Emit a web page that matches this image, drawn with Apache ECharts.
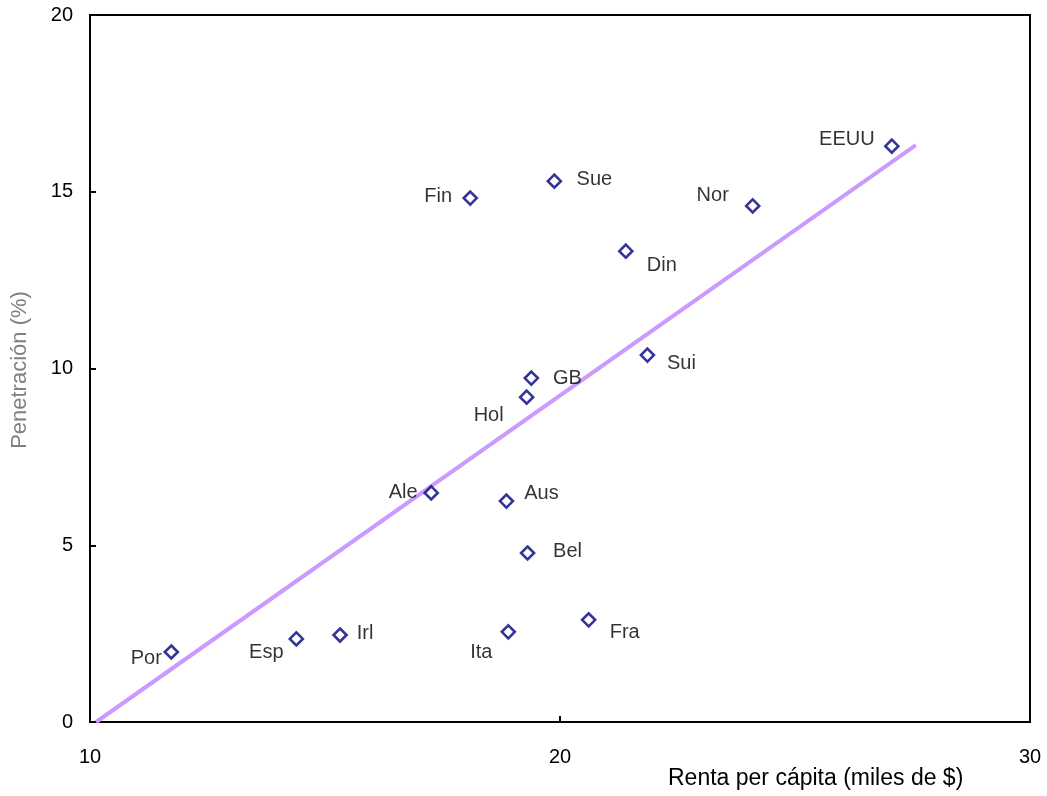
<!DOCTYPE html>
<html><head><meta charset="utf-8">
<script src="https://cdn.jsdelivr.net/npm/echarts@6/dist/echarts.min.js"></script>
<style>html,body{margin:0;padding:0;background:#fff}#c{width:1047px;height:796px}</style>
</head><body><div id="c"></div>
<script>
const countries = ["Por","Esp","Irl","Ita","Fra","Bel","Aus","Ale","Hol","GB","Sui","Din","Fin","Sue","Nor","EEUU"];
const renta = [11.73,14.39,15.32,18.90,20.61,19.31,18.86,17.26,19.29,19.39,21.86,21.40,18.09,19.88,24.10,27.06];
const penetracion = [1.98,2.35,2.46,2.55,2.89,4.78,6.25,6.48,9.19,9.73,10.38,13.32,14.82,15.30,14.60,16.29];
// label offsets (px) relative to each point
const labelOffsets = [[-25,6],[-30,14],[25,-2],[-27,21],[36,13],[40,-2],[35,-8],[-28,0],[-38,18],[36,0],[34,8],[36,14],[-32,-2],[40,-2],[-40,-10],[-45,-7]];
const trendX = [10.13, 27.57];
const trendY = [0, 16.32];
const xTicks = [10, 20, 30];
const yTicks = [0, 5, 10, 15, 20];

const chart = echarts.init(document.getElementById('c'));
const FONT = '"Liberation Sans", Arial, sans-serif';
chart.setOption({
  animation: false,
  grid: {left: 90, right: 17, top: 15, bottom: 74, show: true, borderColor: '#000', borderWidth: 2, backgroundColor: 'transparent'},
  xAxis: {
    type: 'value', min: xTicks[0], max: xTicks[xTicks.length-1], interval: 10,
    axisLine: {show: true, lineStyle: {color: '#000', width: 2}},
    axisTick: {show: true, inside: true, length: 6, lineStyle: {color: '#000', width: 2}},
    splitLine: {show: false},
    axisLabel: {color: '#000', fontSize: 20, fontFamily: FONT, margin: 25}
  },
  yAxis: {
    type: 'value', min: yTicks[0], max: yTicks[yTicks.length-1], interval: 5,
    axisLine: {show: true, lineStyle: {color: '#000', width: 2}},
    axisTick: {show: true, inside: true, length: 6, lineStyle: {color: '#000', width: 2}},
    splitLine: {show: false},
    axisLabel: {color: '#000', fontSize: 20, fontFamily: FONT, margin: 17}
  },
  graphic: [
    {type: 'text', left: 668, top: 767, style: {text: 'Renta per cápita (miles de $)', fill: '#000', font: '23px ' + FONT}},
    {type: 'text', x: 9, y: 370, rotation: Math.PI/2, style: {text: 'Penetración (%)', fill: '#808080', font: '22px ' + FONT, align: 'center', verticalAlign: 'top'}}
  ],
  series: [
    {
      type: 'line', data: trendX.map((x,i)=>[x, trendY[i]]), symbol: 'none',
      lineStyle: {color: '#CC99FF', width: 4}, z: 1
    },
    {
      type: 'scatter', symbol: 'diamond', symbolSize: 13,
      itemStyle: {color: '#fff', borderColor: '#000080', borderWidth: 2.6},
      data: countries.map((n,i)=>({value:[renta[i], penetracion[i]], name: n,
        label: {show: true, position: 'inside', offset: labelOffsets[i], formatter: n, color: '#000', textBorderWidth: 0, textBorderColor: 'transparent', fontSize: 20, fontFamily: FONT}})),
      z: 3
    }
  ]
});
</script></body></html>
